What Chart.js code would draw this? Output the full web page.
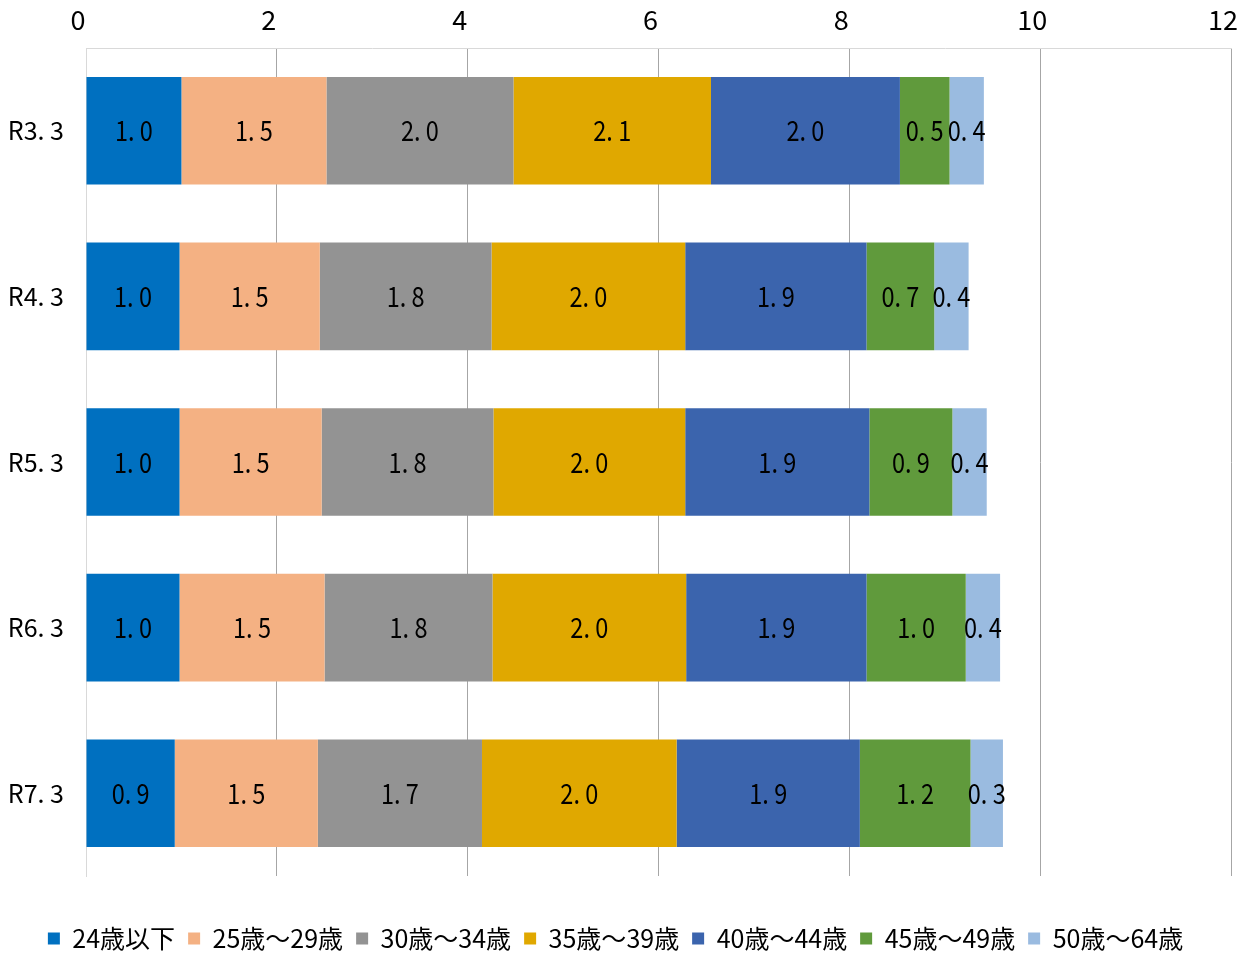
<!DOCTYPE html>
<html>
<head>
<meta charset="utf-8">
<script src="https://cdn.jsdelivr.net/npm/chart.js@4"></script>
<style>
  body { margin: 0; background: #fff; }
  #wrap { width: 1248px; height: 955px; }
</style>
</head>
<body>
<div id="wrap"><canvas id="age_chart"></canvas></div>
<script>
const FONT = '"Noto Sans CJK JP", sans-serif';

// categories (year) and age groups
const periods = ['R3.3', 'R4.3', 'R5.3', 'R6.3', 'R7.3'];
const ageGroups = ['24歳以下', '25歳～29歳', '30歳～34歳', '35歳～39歳', '40歳～44歳', '45歳～49歳', '50歳～64歳'];
const groupColors = ['#0070c0', '#f4b183', '#939393', '#e0a800', '#3b64ad', '#609a3c', '#9abbe0'];

// values per age group, one entry per period
const age24 = [1.00, 0.98, 0.98, 0.98, 0.93];
const age25 = [1.52, 1.47, 1.49, 1.52, 1.50];
const age30 = [1.96, 1.80, 1.80, 1.76, 1.72];
const age35 = [2.07, 2.03, 2.01, 2.03, 2.04];
const age40 = [1.98, 1.90, 1.93, 1.89, 1.92];
const age45 = [0.52, 0.71, 0.87, 1.04, 1.16];
const age50 = [0.36, 0.36, 0.36, 0.36, 0.34];
const seriesValues = [age24, age25, age30, age35, age40, age45, age50];

const xTicks = [0, 2, 4, 6, 8, 10, 12];

function fmt(s) {
    return s.replace('.', '. ');
}

const ctx = document.getElementById('age_chart').getContext('2d');

// value in the middle of each segment, narrowed a bit like the original font
const barText = {
    id: 'barText',
    afterDatasetsDraw(chart) {
        const c = chart.ctx;
        const sx = 0.84;
        c.save();
        c.font = '28px ' + FONT;
        c.fillStyle = '#000';
        c.textAlign = 'center';
        c.textBaseline = 'middle';
        chart.data.datasets.forEach((ds, i) => {
            const meta = chart.getDatasetMeta(i);
            meta.data.forEach((bar, j) => {
                const cx = (bar.x + bar.base) / 2;
                c.save();
                c.scale(sx, 1);
                c.fillText(fmt(ds.data[j].toFixed(1)), cx / sx, bar.y);
                c.restore();
            });
        });
        c.restore();
    }
};

const data = {
    labels: periods,
    datasets: ageGroups.map((name, i) => ({
        label: name,
        data: seriesValues[i],
        backgroundColor: groupColors[i],
        borderWidth: 0,
        barPercentage: 0.65,
        categoryPercentage: 1
    }))
};

let mychart = new Chart(ctx, {
    type: 'bar',
    data,
    options: {
        indexAxis: 'y',
        responsive: true,
        maintainAspectRatio: false,
        animation: false,
        layout: { padding: { left: 0, right: 17, top: 0, bottom: -6 } },
        scales: {
            x: {
                position: 'top',
                stacked: true,
                min: 0,
                max: 12,
                afterBuildTicks: (scale) => { scale.ticks = xTicks.map(v => ({ value: v })); },
                afterFit: (scale) => {
                    scale.height = 48;
                    scale.paddingLeft = 0;
                    scale.paddingRight = 0;
                },
                grid: {
                    drawTicks: false,
                    color: (c) => c.tick && c.tick.value === 0 ? '#d9d9d9' : '#a6a6a6'
                },
                border: { color: '#d9d9d9' },
                ticks: {
                    padding: 12,
                    labelOffset: -8,
                    color: '#000',
                    font: { family: FONT, size: 27 }
                }
            },
            y: {
                stacked: true,
                afterFit: (scale) => { scale.width = 86; },
                grid: { display: false, drawTicks: false },
                border: { color: '#d9d9d9' },
                ticks: {
                    padding: 22,
                    color: '#000',
                    font: { family: FONT, size: 25 },
                    callback: function (v) { return fmt(this.getLabelForValue(v)); }
                }
            }
        },
        plugins: {
            legend: {
                position: 'bottom',
                title: {
                    display: true,
                    text: ' ',
                    padding: { top: 25, bottom: 0 },
                    font: { size: 10 }
                },
                labels: {
                    boxWidth: 12,
                    boxHeight: 12,
                    padding: 13,
                    color: '#000',
                    font: { family: FONT, size: 25 }
                }
            },
            tooltip: { enabled: false }
        }
    },
    plugins: [barText]
});
</script>
</body>
</html>
